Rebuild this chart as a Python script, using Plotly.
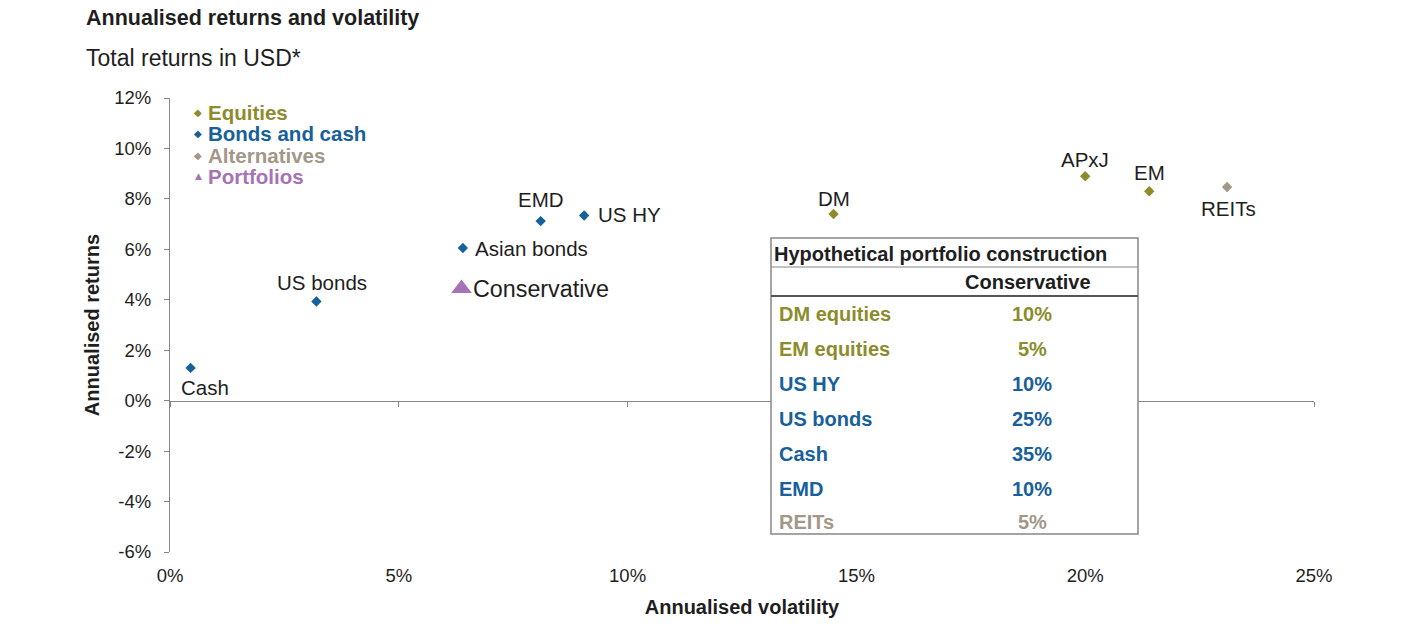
import plotly.graph_objects as go

# ---------------- data ----------------
equity_names = ["DM", "APxJ", "EM"]
equity_vol = [14.5, 20.0, 21.4]
equity_ret = [7.4, 8.9, 8.3]

bond_names = ["Cash", "US bonds", "Asian bonds", "EMD", "US HY"]
bond_vol = [0.45, 3.2, 6.4, 8.1, 9.05]
bond_ret = [1.3, 3.93, 6.05, 7.12, 7.34]

alt_names = ["REITs"]
alt_vol = [23.1]
alt_ret = [8.47]

port_names = ["Conservative"]
port_vol = [6.37]
port_ret = [4.45]

legend_labels = ["Equities", "Bonds and cash", "Alternatives", "Portfolios"]

table_title = "Hypothetical portfolio construction"
table_header = "Conservative"
table_assets = ["DM equities", "EM equities", "US HY", "US bonds", "Cash", "EMD", "REITs"]
table_weights = ["10%", "5%", "10%", "25%", "35%", "10%", "5%"]
table_groups = ["eq", "eq", "bd", "bd", "bd", "bd", "alt"]

x_ticks = [0, 5, 10, 15, 20, 25]
x_ticktext = ["0%", "5%", "10%", "15%", "20%", "25%"]
y_ticks = [-6, -4, -2, 0, 2, 4, 6, 8, 10, 12]
y_ticktext = ["-6%", "-4%", "-2%", "0%", "2%", "4%", "6%", "8%", "10%", "12%"]

# ---------------- styles ----------------
C_EQ = "#8c8c2c"
C_BD = "#17609a"
C_ALT = "#a39787"
C_PT = "#a673b4"
COLORS = {"eq": C_EQ, "bd": C_BD, "alt": C_ALT, "pt": C_PT}
TXT = "#1e1e1e"
AX = "#868686"
FONT = "Liberation Sans, Arial, sans-serif"

W, H = 1403, 630
L, R, T, B = 170, 89, 98, 78
PW, PH = W - L - R, H - T - B


def pxx(x):
    return (x - L) / PW


def pxy(y):
    return (H - B - y) / PH


fig = go.Figure()

diamond = dict(symbol="diamond", size=8, line=dict(width=0))
fig.add_trace(go.Scatter(x=equity_vol, y=equity_ret, mode="markers",
                         marker=dict(color=C_EQ, **diamond), showlegend=False))
fig.add_trace(go.Scatter(x=bond_vol, y=bond_ret, mode="markers",
                         marker=dict(color=C_BD, **diamond), showlegend=False))
fig.add_trace(go.Scatter(x=alt_vol, y=alt_ret, mode="markers",
                         marker=dict(color=C_ALT, **diamond), showlegend=False))
fig.add_trace(go.Scatter(x=port_vol, y=port_ret, mode="markers",
                         marker=dict(color=C_PT, symbol="triangle-up", size=18, line=dict(width=0)),
                         showlegend=False))
# helper trace for the zero-line axis with ticks
fig.add_trace(go.Scatter(x=[0], y=[0], xaxis="x2", mode="markers",
                         marker=dict(opacity=0), showlegend=False, hoverinfo="skip"))

# point label offsets (pixels): (xanchor, xshift, yshift)
label_pos = {
    "DM": ("center", 0, 16),
    "APxJ": ("center", 0, 17),
    "EM": ("center", 0, 19),
    "Cash": ("center", 14, -20),
    "US bonds": ("center", 6, 19),
    "Asian bonds": ("left", 10, 0),
    "EMD": ("center", 0, 22),
    "US HY": ("left", 12, 1),
    "REITs": ("center", 1, -21),
    "Conservative": ("left", 10, -1),
}

annotations = []
for names, xs, ys in [(equity_names, equity_vol, equity_ret), (bond_names, bond_vol, bond_ret),
                      (alt_names, alt_vol, alt_ret), (port_names, port_vol, port_ret)]:
    for n, xv, yv in zip(names, xs, ys):
        xa, xs_, ys_ = label_pos[n]
        annotations.append(dict(x=xv, y=yv, xref="x", yref="y", text=n, showarrow=False,
                                xanchor=xa, yanchor="middle", xshift=xs_, yshift=ys_,
                                font=dict(family=FONT, size=23.3 if n == "Conservative" else 20.5,
                                          color=TXT)))

# legend as annotations (symbol + label)
leg_keys = ["eq", "bd", "alt", "pt"]
leg_y = [112, 133, 155, 176]
for lab, k, yy in zip(legend_labels, leg_keys, leg_y):
    sym = "▲" if k == "pt" else "◆"
    annotations.append(dict(x=pxx(198), y=pxy(yy), xref="paper", yref="paper", showarrow=False,
                            xanchor="center", yanchor="middle", text=sym,
                            font=dict(family="DejaVu Sans", size=9 if k == "pt" else 10, color=COLORS[k])))
    annotations.append(dict(x=pxx(206), y=pxy(yy), xref="paper", yref="paper", showarrow=False,
                            xanchor="left", yanchor="middle", text=f"<b>{lab}</b>",
                            font=dict(family=FONT, size=20.5, color=COLORS[k])))

# titles
annotations.append(dict(x=pxx(84), y=pxy(18), xref="paper", yref="paper", showarrow=False,
                        xanchor="left", yanchor="middle", text="<b>Annualised returns and volatility</b>",
                        font=dict(family=FONT, size=21.5, color=TXT)))
annotations.append(dict(x=pxx(84), y=pxy(58), xref="paper", yref="paper", showarrow=False,
                        xanchor="left", yanchor="middle", text="Total returns in USD*",
                        font=dict(family=FONT, size=23, color=TXT)))

# table
TFS = 20
tb_l, tb_r, tb_t, tb_b = 771, 1138, 238, 534
shapes = [
    dict(type="rect", xref="paper", yref="paper", x0=pxx(tb_l), x1=pxx(tb_r), y0=pxy(tb_b), y1=pxy(tb_t),
         fillcolor="white", line=dict(color=AX, width=1.5), layer="above"),
    dict(type="line", xref="paper", yref="paper", x0=pxx(tb_l), x1=pxx(tb_r), y0=pxy(267), y1=pxy(267),
         line=dict(color=AX, width=1.2), layer="above"),
    dict(type="line", xref="paper", yref="paper", x0=pxx(tb_l), x1=pxx(tb_r), y0=pxy(296), y1=pxy(296),
         line=dict(color="#555555", width=2), layer="above"),
]
annotations.append(dict(x=pxx(772), y=pxy(254), xref="paper", yref="paper", showarrow=False,
                        xanchor="left", yanchor="middle", text=f"<b>{table_title}</b>",
                        font=dict(family=FONT, size=TFS, color=TXT)))
annotations.append(dict(x=pxx(1028), y=pxy(282), xref="paper", yref="paper", showarrow=False,
                        xanchor="center", yanchor="middle", text=f"<b>{table_header}</b>",
                        font=dict(family=FONT, size=TFS, color=TXT)))
row_y0, row_dy = 314, 35
for i, (a, w, g) in enumerate(zip(table_assets, table_weights, table_groups)):
    yy = row_y0 + i * row_dy if i < 6 else 522
    annotations.append(dict(x=pxx(777), y=pxy(yy), xref="paper", yref="paper", showarrow=False,
                            xanchor="left", yanchor="middle", text=f"<b>{a}</b>",
                            font=dict(family=FONT, size=TFS, color=COLORS[g])))
    annotations.append(dict(x=pxx(1032), y=pxy(yy), xref="paper", yref="paper", showarrow=False,
                            xanchor="center", yanchor="middle", text=f"<b>{w}</b>",
                            font=dict(family=FONT, size=TFS, color=COLORS[g])))

fig.update_layout(
    width=W, height=H,
    margin=dict(l=L, r=R, t=T, b=B, pad=0),
    paper_bgcolor="white", plot_bgcolor="white",
    showlegend=False,
    font=dict(family=FONT, color=TXT),
    xaxis=dict(range=[0, 25], tickvals=x_ticks, ticktext=x_ticktext, showgrid=False, zeroline=False,
               showline=False, ticks="", tickfont=dict(size=18.5, color=TXT), ticklabelstandoff=10,
               title=dict(text="<b>Annualised volatility</b>", font=dict(size=20, color=TXT), standoff=15)),
    xaxis2=dict(range=[0, 25], overlaying="x", anchor="free", position=1 / 3, tickvals=x_ticks,
                showticklabels=False, showgrid=False, zeroline=False, showline=True, linecolor=AX,
                linewidth=1.2, ticks="outside", ticklen=5, tickcolor=AX, tickwidth=1),
    yaxis=dict(range=[-6, 12], tickvals=y_ticks, ticktext=y_ticktext, showgrid=False, zeroline=False,
               showline=True, linecolor=AX, linewidth=1.2, ticks="outside", ticklen=5, tickcolor=AX,
               tickfont=dict(size=18.5, color=TXT), ticklabelstandoff=9,
               title=dict(text="<b>Annualised returns</b>", font=dict(size=20, color=TXT), standoff=9)),
    annotations=annotations,
    shapes=shapes,
)

fig.write_html("out.html")
